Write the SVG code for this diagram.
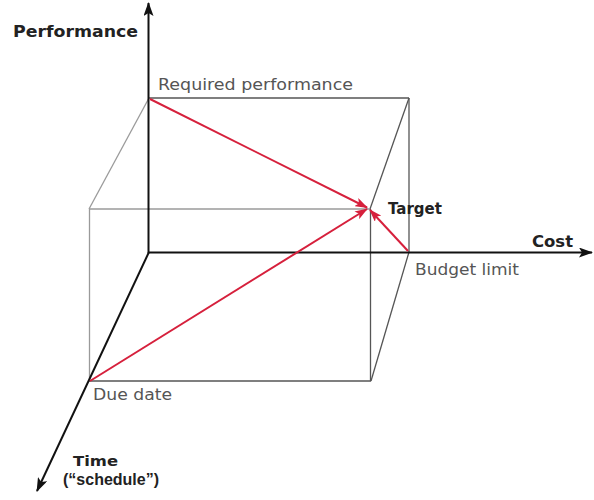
<svg xmlns="http://www.w3.org/2000/svg" width="594" height="500" viewBox="0 0 594 500">
  <style>
    .axis { stroke: #111; stroke-width: 2; fill: none; }
    .box { stroke: #555; stroke-width: 1.3; fill: none; }
    .boxlight { stroke: #9a9a9a; stroke-width: 1.3; fill: none; }
    .red { stroke: #d6203c; stroke-width: 2; fill: none; }
    .lbl { font-family: "DejaVu Sans", "Liberation Sans", sans-serif; font-size: 16px; fill: #555; }
    .bold { font-family: "DejaVu Sans", "Liberation Sans", sans-serif; font-weight: bold; font-size: 16px; fill: #222; }
    .small { font-size: 14.5px; }
    .narrow { font-family: "Liberation Sans", Arial, sans-serif; font-size: 16px; }
  </style>
  <defs>
    <marker id="ah" viewBox="0 0 14 10" markerWidth="14" markerHeight="10" refX="13" refY="5" orient="auto" markerUnits="userSpaceOnUse">
      <path d="M0,0 L14,5 L0,10 L3,5 z" fill="#111"/>
    </marker>
    <marker id="ahr" viewBox="0 0 13 9" markerWidth="13" markerHeight="9" refX="12" refY="4.5" orient="auto" markerUnits="userSpaceOnUse">
      <path d="M0,0 L13,4.5 L0,9 L3,4.5 z" fill="#d6203c"/>
    </marker>
  </defs>

  <g id="box">
    <line class="box" x1="149" y1="98" x2="409" y2="98"/>
    <line class="box" x1="409" y1="98" x2="409" y2="252"/>
    <line class="boxlight" x1="149" y1="98" x2="89" y2="209"/>
    <line class="box" x1="409" y1="98" x2="370" y2="209"/>
    <line class="box" x1="409" y1="252" x2="371" y2="381"/>
    <line class="boxlight" x1="89" y1="209" x2="370" y2="209"/>
    <line class="boxlight" x1="89.5" y1="209" x2="89.5" y2="381"/>
    <line class="box" x1="370.5" y1="209" x2="370.5" y2="381"/>
    <line class="box" x1="89" y1="381" x2="371" y2="381"/>
  </g>

  <g id="connectors">
    <line class="axis" x1="148.5" y1="253" x2="148.5" y2="3" marker-end="url(#ah)"/>
    <line class="axis" x1="148" y1="252.5" x2="592" y2="252.5" marker-end="url(#ah)"/>
    <line class="axis" x1="149" y1="252" x2="37" y2="491" marker-end="url(#ah)"/>
    <line class="red" x1="150" y1="99" x2="367" y2="207.5" marker-end="url(#ahr)"/>
    <line class="red" x1="90" y1="381" x2="367" y2="209" marker-end="url(#ahr)"/>
    <line class="red" x1="408" y1="251" x2="370" y2="210" marker-end="url(#ahr)"/>
  </g>

  <g id="performance-axis-label"><text class="bold" x="13" y="37" textLength="125" lengthAdjust="spacingAndGlyphs">Performance</text></g>
  <g id="required-performance"><text class="lbl" x="158" y="90" textLength="195" lengthAdjust="spacingAndGlyphs">Required performance</text></g>
  <g id="target"><text class="bold" x="388" y="214" style="font-size:15px" textLength="54" lengthAdjust="spacingAndGlyphs">Target</text></g>
  <g id="cost-axis-label"><text class="bold" x="532" y="247" textLength="41" lengthAdjust="spacingAndGlyphs">Cost</text></g>
  <g id="budget-limit"><text class="lbl" x="415" y="275" textLength="104" lengthAdjust="spacingAndGlyphs">Budget limit</text></g>
  <g id="due-date"><text class="lbl" x="93" y="400" textLength="79" lengthAdjust="spacingAndGlyphs">Due date</text></g>
  <g id="time-axis-label">
    <text class="bold small" x="73" y="466" textLength="45" lengthAdjust="spacingAndGlyphs">Time</text>
    <text class="bold narrow" x="63" y="485">(“schedule”)</text>
  </g>
</svg>
